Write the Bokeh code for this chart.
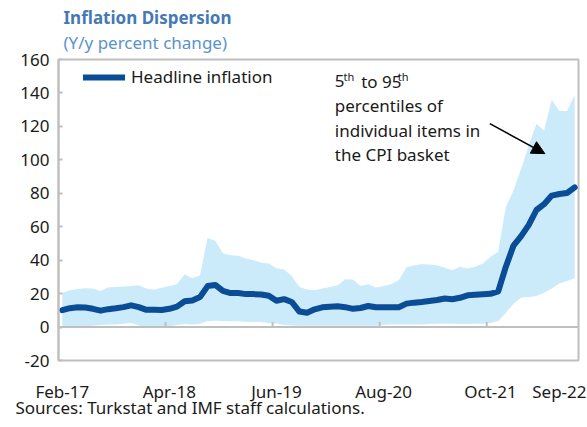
from bokeh.plotting import figure
from bokeh.models import (Range1d, FixedTicker, Label, Legend, LegendItem,
                          Arrow, NormalHead, Title, Span)
from bokeh.embed import file_html
from bokeh.resources import INLINE
import pandas as pd

# ---------------- data ----------------
months = [d.strftime("%b-%y") for d in pd.date_range("2017-02-01", "2022-09-01", freq="MS")]

headline = [10.1, 11.3, 11.9, 11.7, 10.9, 9.8, 10.7, 11.2, 11.9, 13.0, 11.9,
            10.3, 10.3, 10.2, 10.9, 12.2, 15.4, 15.9, 17.9, 24.5, 25.2, 21.6, 20.3,
            20.4, 19.7, 19.7, 19.5, 18.7, 15.7, 16.7, 15.0, 9.3, 8.6, 10.6, 11.8,
            12.2, 12.4, 11.9, 10.9, 11.4, 12.6, 11.8, 11.8, 11.8, 11.9, 14.0, 14.6,
            15.0, 15.6, 16.2, 17.1, 16.6, 17.5, 19.0, 19.3, 19.6, 19.9, 21.3, 36.1,
            48.7, 54.4, 61.1, 70.0, 73.5, 78.6, 79.6, 80.2, 83.5]

p95 = [20.5, 22.0, 22.8, 23.2, 23.0, 21.6, 23.8, 24.0, 24.2, 24.6, 25.0,
       23.0, 22.3, 23.5, 24.5, 25.6, 31.6, 29.2, 31.0, 53.2, 51.6, 44.0, 43.0,
       42.6, 41.0, 40.0, 38.5, 38.0, 35.2, 34.4, 30.5, 24.0, 22.5, 22.0, 23.0,
       24.0, 25.0, 28.6, 28.4, 24.6, 25.6, 23.6, 24.5, 25.6, 28.0, 35.6, 37.0,
       37.6, 37.4, 37.0, 35.5, 34.0, 36.0, 35.0, 36.0, 38.0, 42.0, 45.0, 72.0,
       81.6, 94.6, 108.6, 121.6, 117.6, 136.0, 129.2, 129.2, 138.6]

p5 = [0.5, 0.3, 0.3, 0.5, 0.8, 1.2, 1.5, 1.5, 2.0, 2.4, 1.0,
      0.3, 0.2, 0.2, 0.5, 1.2, 1.8, 1.6, 2.0, 3.6, 3.8, 3.6, 3.5,
      3.4, 3.2, 3.0, 3.0, 2.4, 2.2, 1.2, 1.0, 0.8, 0.8, 0.8, 0.8,
      0.8, 0.8, 0.8, 0.8, 0.8, 0.8, 0.8, 1.4, 1.6, 1.6, 1.6, 1.6,
      1.6, 1.8, 2.0, 2.0, 2.0, 1.8, 1.8, 2.0, 2.0, 2.5, 3.6, 8.5,
      14.0, 17.6, 18.0, 18.6, 20.5, 23.0, 26.0, 27.5, 29.2]

tick_labels = ["Feb-17", "Apr-18", "Jun-19", "Aug-20", "Oct-21", "Sep-22"]
y_ticks = [-20, 0, 20, 40, 60, 80, 100, 120, 140, 160]

title_text = "Inflation Dispersion"
subtitle_text = "(Y/y percent change)"
legend_text = "Headline inflation"
note_lines = ["percentiles of", "individual items in", "the CPI basket"]
source_text = "Sources: Turkstat and IMF staff calculations."

# ---------------- style ----------------
FONT = "Noto Sans"
FRAME = "#bfbfbf"
BAND = "#cbebfb"
LINE = "#0a4d96"
TXT = "#1a1a1a"
TITLE_C = "#4579b5"
SUB_C = "#5a93cc"

x = list(range(len(months)))

p = figure(width=587, height=427, x_range=Range1d(-0.5, len(months) - 0.5),
           y_range=Range1d(-20, 160), output_backend="svg", toolbar_location=None,
           min_border_left=58, min_border_right=9, min_border_top=59, min_border_bottom=67)
p.xgrid.visible = False
p.ygrid.visible = False
p.outline_line_color = FRAME
p.outline_line_width = 2
p.background_fill_color = "white"
p.border_fill_color = "white"

# titles (first added to "above" sits nearest the frame)
p.title.text = title_text
p.title.text_font = FONT
p.title.text_font_size = "17px"
p.title.text_font_style = "bold"
p.title.text_color = TITLE_C
p.title.align = "left"
p.title.offset = 5
p.title.standoff = -12
p.add_layout(Title(text=subtitle_text, text_font=FONT, text_font_size="17px",
                   text_font_style="normal", text_color=SUB_C, align="left",
                   offset=5, standoff=12), "above")

p.varea(x=x, y1=p5, y2=p95, fill_color=BAND)
r = p.line(x, headline, line_width=6, line_color=LINE, line_cap="round", line_join="round")

# zero line with category-boundary tick marks
p.add_layout(Span(location=0, dimension="width", line_color=FRAME, line_width=2))
bounds = [months.index(t) - 0.5 for t in tick_labels[1:-1]]
p.segment(x0=bounds, y0=[0] * len(bounds), x1=bounds, y1=[3] * len(bounds),
          line_color=FRAME, line_width=2)

# x axis: labels only
label_pos = [months.index(t) for t in tick_labels[:-1]] + [len(months) - 3]
xa = p.xaxis[0]
xa.ticker = FixedTicker(ticks=label_pos)
xa.major_label_overrides = {pos: lab for pos, lab in zip(label_pos, tick_labels)}
xa.major_tick_line_color = None
xa.minor_tick_line_color = None
xa.axis_line_color = None
xa.major_tick_out = 0
xa.major_tick_in = 0
xa.major_label_standoff = 19
xa.major_label_text_font = FONT
xa.major_label_text_font_size = "17px"
xa.major_label_text_color = TXT

p.add_layout(Title(text=source_text, text_font=FONT, text_font_size="17px",
                   text_font_style="normal", text_color=TXT, align="left",
                   vertical_align="top", offset=-43, standoff=-20), "below")

ya = p.yaxis[0]
ya.ticker = FixedTicker(ticks=y_ticks)
ya.major_label_overrides = {t: str(t) for t in y_ticks}
ya.major_tick_in = 4
ya.major_tick_out = 0
ya.major_tick_line_color = FRAME
ya.major_tick_line_width = 2
ya.minor_tick_line_color = None
ya.axis_line_color = FRAME
ya.axis_line_width = 2
ya.major_label_standoff = 9
ya.major_label_text_font = FONT
ya.major_label_text_font_size = "17px"
ya.major_label_text_color = TXT

legend = Legend(items=[LegendItem(label=legend_text, renderers=[r])],
                location=(25, 272), glyph_width=42, glyph_height=20, label_standoff=6,
                padding=0, margin=0, spacing=0, border_line_color=None,
                background_fill_alpha=0, label_text_font=FONT,
                label_text_font_size="17px", label_text_color=TXT,
                label_height=20)
p.add_layout(legend)


def add_text(text, sx, sy, size, color=TXT):
    p.add_layout(Label(x=sx, y=sy, x_units="screen", y_units="screen", text=text,
                       text_font=FONT, text_font_size=f"{size}px", text_color=color,
                       text_baseline="alphabetic", text_align="left"))


# annotation "5th to 95th percentiles ..."
add_text("5", 276.3, 279.3, 17)
add_text("th", 285, 284.3, 11)
add_text("to 95", 302.7, 279.3, 17)
add_text("th", 339.3, 284.3, 11)
for k, line in enumerate(note_lines):
    add_text(line, 276.3, 254.8 - 24.5 * k, 17)

p.add_layout(Arrow(end=NormalHead(size=13, fill_color="black", line_color="black"),
                   x_start=55.9, y_start=121.6, x_end=63.1, y_end=103.7,
                   line_width=1.5, line_color="black"))

open("out.html", "w").write(file_html(p, INLINE))
